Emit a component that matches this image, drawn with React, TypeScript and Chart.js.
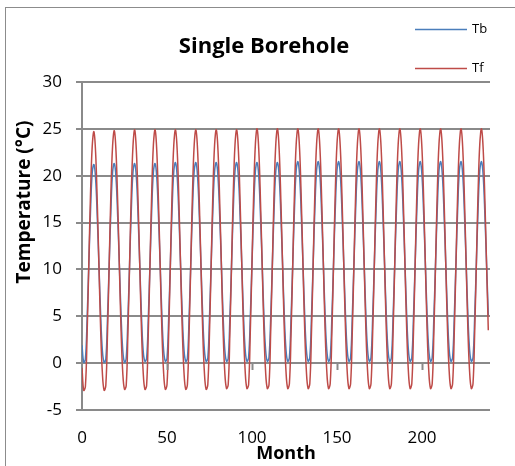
import React, { useEffect, useRef } from "react";
import { Chart, registerables } from "chart.js";

Chart.register(...registerables);

const months = [
  0, 1, 2, 3, 4, 5, 6, 7, 8, 9, 10, 11,
  12, 13, 14, 15, 16, 17, 18, 19, 20, 21, 22, 23,
  24, 25, 26, 27, 28, 29, 30, 31, 32, 33, 34, 35,
  36, 37, 38, 39, 40, 41, 42, 43, 44, 45, 46, 47,
  48, 49, 50, 51, 52, 53, 54, 55, 56, 57, 58, 59,
  60, 61, 62, 63, 64, 65, 66, 67, 68, 69, 70, 71,
  72, 73, 74, 75, 76, 77, 78, 79, 80, 81, 82, 83,
  84, 85, 86, 87, 88, 89, 90, 91, 92, 93, 94, 95,
  96, 97, 98, 99, 100, 101, 102, 103, 104, 105, 106, 107,
  108, 109, 110, 111, 112, 113, 114, 115, 116, 117, 118, 119,
  120, 121, 122, 123, 124, 125, 126, 127, 128, 129, 130, 131,
  132, 133, 134, 135, 136, 137, 138, 139, 140, 141, 142, 143,
  144, 145, 146, 147, 148, 149, 150, 151, 152, 153, 154, 155,
  156, 157, 158, 159, 160, 161, 162, 163, 164, 165, 166, 167,
  168, 169, 170, 171, 172, 173, 174, 175, 176, 177, 178, 179,
  180, 181, 182, 183, 184, 185, 186, 187, 188, 189, 190, 191,
  192, 193, 194, 195, 196, 197, 198, 199, 200, 201, 202, 203,
  204, 205, 206, 207, 208, 209, 210, 211, 212, 213, 214, 215,
  216, 217, 218, 219, 220, 221, 222, 223, 224, 225, 226, 227,
  228, 229, 230, 231, 232, 233, 234, 235, 236, 237, 238, 239,
];

const tb = [
  1.9, 0.1, 0.4, 4.7, 10.5, 16.2, 20.3, 21.2, 19.7, 15.5, 10.3, 5.0,
  1.3, 0.1, 0.4, 4.8, 10.6, 16.3, 20.4, 21.3, 19.8, 15.6, 10.4, 5.0,
  1.3, 0.1, 0.5, 4.8, 10.6, 16.3, 20.4, 21.3, 19.8, 15.6, 10.4, 5.0,
  1.3, 0.2, 0.5, 4.8, 10.6, 16.3, 20.4, 21.3, 19.8, 15.6, 10.4, 5.1,
  1.4, 0.2, 0.5, 4.9, 10.7, 16.4, 20.5, 21.4, 19.9, 15.7, 10.4, 5.1,
  1.4, 0.2, 0.5, 4.9, 10.7, 16.4, 20.5, 21.4, 19.9, 15.7, 10.4, 5.1,
  1.4, 0.2, 0.5, 4.9, 10.7, 16.4, 20.5, 21.4, 19.9, 15.7, 10.5, 5.1,
  1.4, 0.2, 0.5, 4.9, 10.7, 16.4, 20.5, 21.4, 19.9, 15.7, 10.5, 5.1,
  1.4, 0.2, 0.6, 4.9, 10.7, 16.4, 20.5, 21.4, 19.9, 15.7, 10.5, 5.1,
  1.4, 0.2, 0.6, 4.9, 10.7, 16.4, 20.5, 21.4, 19.9, 15.7, 10.5, 5.1,
  1.4, 0.2, 0.6, 5.0, 10.8, 16.5, 20.6, 21.5, 20.0, 15.8, 10.5, 5.1,
  1.4, 0.2, 0.6, 5.0, 10.8, 16.5, 20.6, 21.5, 20.0, 15.8, 10.5, 5.1,
  1.4, 0.2, 0.6, 5.0, 10.8, 16.5, 20.6, 21.5, 20.0, 15.8, 10.5, 5.1,
  1.4, 0.2, 0.6, 5.0, 10.8, 16.5, 20.6, 21.5, 20.0, 15.8, 10.5, 5.1,
  1.4, 0.2, 0.6, 5.0, 10.8, 16.5, 20.6, 21.5, 20.0, 15.8, 10.5, 5.1,
  1.4, 0.2, 0.6, 5.0, 10.8, 16.5, 20.6, 21.5, 20.0, 15.8, 10.5, 5.1,
  1.4, 0.2, 0.6, 5.0, 10.8, 16.5, 20.6, 21.5, 20.0, 15.8, 10.5, 5.1,
  1.4, 0.2, 0.6, 5.0, 10.8, 16.5, 20.6, 21.5, 20.0, 15.8, 10.5, 5.1,
  1.4, 0.2, 0.6, 5.0, 10.8, 16.5, 20.6, 21.5, 20.0, 15.8, 10.5, 5.1,
  1.4, 0.2, 0.6, 5.0, 10.8, 16.5, 20.6, 21.5, 20.0, 15.8, 10.5, 5.1,
];

const tf = [
  -0.5, -2.9, -2.5, 3.1, 10.5, 18.0, 23.1, 24.7, 22.5, 17.0, 10.2, 3.4,
  -1.1, -2.9, -2.4, 3.2, 10.6, 18.1, 23.2, 24.8, 22.6, 17.1, 10.2, 3.4,
  -1.1, -2.8, -2.4, 3.2, 10.6, 18.1, 23.2, 24.9, 22.6, 17.1, 10.3, 3.5,
  -1.0, -2.8, -2.4, 3.3, 10.6, 18.1, 23.3, 24.9, 22.6, 17.1, 10.3, 3.5,
  -1.0, -2.8, -2.3, 3.3, 10.7, 18.2, 23.3, 24.9, 22.7, 17.2, 10.3, 3.5,
  -1.0, -2.8, -2.3, 3.3, 10.7, 18.2, 23.3, 24.9, 22.7, 17.2, 10.3, 3.5,
  -1.0, -2.8, -2.3, 3.3, 10.7, 18.2, 23.3, 24.9, 22.7, 17.2, 10.4, 3.5,
  -1.0, -2.7, -2.3, 3.3, 10.7, 18.2, 23.3, 24.9, 22.7, 17.2, 10.4, 3.6,
  -0.9, -2.7, -2.3, 3.4, 10.7, 18.2, 23.4, 25.0, 22.7, 17.2, 10.4, 3.6,
  -0.9, -2.7, -2.3, 3.4, 10.7, 18.2, 23.4, 25.0, 22.7, 17.2, 10.4, 3.6,
  -0.9, -2.7, -2.2, 3.4, 10.8, 18.3, 23.4, 25.0, 22.8, 17.3, 10.4, 3.6,
  -0.9, -2.7, -2.2, 3.4, 10.8, 18.3, 23.4, 25.0, 22.8, 17.3, 10.4, 3.6,
  -0.9, -2.7, -2.2, 3.4, 10.8, 18.3, 23.4, 25.0, 22.8, 17.3, 10.4, 3.6,
  -0.9, -2.7, -2.2, 3.4, 10.8, 18.3, 23.4, 25.0, 22.8, 17.3, 10.4, 3.6,
  -0.9, -2.7, -2.2, 3.4, 10.8, 18.3, 23.4, 25.0, 22.8, 17.3, 10.4, 3.6,
  -0.9, -2.7, -2.2, 3.4, 10.8, 18.3, 23.4, 25.0, 22.8, 17.3, 10.4, 3.6,
  -0.9, -2.7, -2.2, 3.4, 10.8, 18.3, 23.4, 25.0, 22.8, 17.3, 10.4, 3.6,
  -0.9, -2.7, -2.2, 3.4, 10.8, 18.3, 23.4, 25.0, 22.8, 17.3, 10.4, 3.6,
  -0.9, -2.7, -2.2, 3.4, 10.8, 18.3, 23.4, 25.0, 22.8, 17.3, 10.4, 3.6,
  -0.9, -2.7, -2.2, 3.4, 10.8, 18.3, 23.4, 25.0, 22.8, 17.3, 10.4, 3.5,
];

const seriesNames = ["Tb", "Tf"];
const seriesColors = ["#4A7EBB", "#BE4B48"];
const xTickValues = [0, 50, 100, 150, 200];
const chartTitle = "Single Borehole";
const yTitle = "Temperature (°C)";
const xTitle = "Month";

const GRID = "#8a8a8a";
const FONT = "'Open Sans', Lato, 'Liberation Sans', sans-serif";

const decor = {
  id: "decor",
  beforeDraw(chart: any) {
    const { ctx } = chart;
    ctx.save();
    ctx.strokeStyle = "#8c8c8c";
    ctx.lineWidth = 1;
    ctx.strokeRect(5.5, 7.5, chart.width + 20, chart.height + 20);
    ctx.restore();
  },
  afterDraw(chart: any) {
    const { ctx, scales } = chart;
    const x = scales.x;
    const y = scales.y;
    ctx.save();
    // tick marks on the zero line
    const y0 = Math.round(y.getPixelForValue(0));
    ctx.strokeStyle = GRID;
    ctx.lineWidth = 2;
    xTickValues.forEach((v) => {
      if (v === x.min) return;
      const px = Math.round(x.getPixelForValue(v)) + 0.5;
      ctx.beginPath();
      ctx.moveTo(px, y0);
      ctx.lineTo(px, y0 + 7);
      ctx.stroke();
    });
    // title
    ctx.fillStyle = "#000";
    ctx.font = `bold 22px ${FONT}`;
    ctx.textAlign = "center";
    ctx.textBaseline = "alphabetic";
    ctx.fillText(chartTitle, 264, 53);
    // y title
    ctx.save();
    ctx.translate(25, 202);
    ctx.rotate(-Math.PI / 2);
    ctx.font = `bold 19px ${FONT}`;
    ctx.textBaseline = "middle";
    ctx.fillText(yTitle, 0, 0);
    ctx.restore();
    // legend
    const rows = [29.5, 68.5];
    chart.data.datasets.forEach((ds: any, i: number) => {
      ctx.strokeStyle = ds.borderColor;
      ctx.lineWidth = 1.5;
      ctx.beginPath();
      ctx.moveTo(415, rows[i]);
      ctx.lineTo(467, rows[i]);
      ctx.stroke();
      ctx.fillStyle = "#000";
      ctx.font = `13px ${FONT}`;
      ctx.textAlign = "left";
      ctx.textBaseline = "middle";
      ctx.fillText(ds.label, 472, rows[i]);
    });
    ctx.restore();
  },
};

export default function App() {
  const ref = useRef<HTMLCanvasElement | null>(null);
  useEffect(() => {
    if (!ref.current) return;
    const chart = new Chart(ref.current, {
      type: "line",
      data: {
        datasets: [
          {
            label: seriesNames[0],
            data: months.map((m, i) => ({ x: m, y: tb[i] })),
            borderColor: seriesColors[0],
            backgroundColor: seriesColors[0],
            borderWidth: 1.5,
            pointRadius: 0,
            tension: 0.4,
            order: 1,
          },
          {
            label: seriesNames[1],
            data: months.map((m, i) => ({ x: m, y: tf[i] })),
            borderColor: seriesColors[1],
            backgroundColor: seriesColors[1],
            borderWidth: 1.5,
            pointRadius: 0,
            tension: 0.4,
            order: 0,
          },
        ],
      },
      options: {
        animation: false,
        responsive: false,
        maintainAspectRatio: false,
        layout: { padding: { top: 82, right: 25, bottom: 0, left: 0 } },
        plugins: {
          legend: { display: false },
          title: { display: false },
          tooltip: { enabled: false },
        },
        scales: {
          x: {
            type: "linear",
            min: 0,
            max: 240,
            afterFit: (s: any) => {
              s.height = 56;
            },
            ticks: {
              stepSize: 50,
              includeBounds: false,
              padding: 18,
              color: "#000",
              font: { family: FONT, size: 17 },
            },
            grid: { display: false, drawTicks: false },
            border: { display: false },
            title: {
              display: true,
              text: xTitle,
              color: "#000",
              font: { family: FONT, size: 18, weight: "bold" },
              padding: { top: 0, bottom: 1 },
            },
          },
          y: {
            min: -5,
            max: 30,
            afterFit: (s: any) => {
              s.width = 82;
            },
            ticks: {
              stepSize: 5,
              padding: 14,
              color: "#000",
              font: { family: FONT, size: 17 },
            },
            grid: {
              color: GRID,
              lineWidth: 2,
              tickLength: 6,
              drawTicks: true,
            },
            border: { display: true, color: GRID, width: 2 },
          },
        },
      },
      plugins: [decor],
    });
    return () => chart.destroy();
  }, []);
  return (
    <div style={{ position: "fixed", left: 0, top: 0, width: 515, height: 466, background: "#fff" }}>
      <canvas ref={ref} width={515} height={466} style={{ display: "block" }} />
    </div>
  );
}
